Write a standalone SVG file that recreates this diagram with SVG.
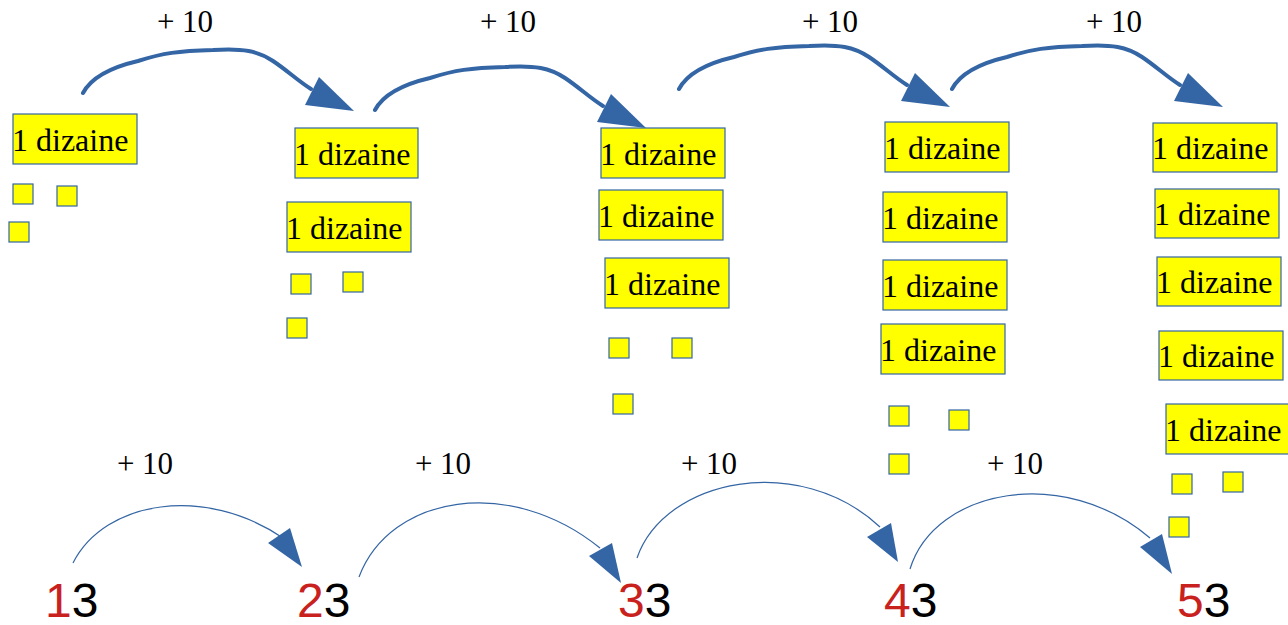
<svg xmlns="http://www.w3.org/2000/svg" width="1288" height="625" viewBox="0 0 1288 625">
<style>
.bg{fill:#ffffff}
.box rect{fill:#ffff00;stroke:#3465a4;stroke-width:1.2}
.box text{font-family:"Liberation Serif","Times New Roman",serif;font-size:32px;fill:#000}
.unit{fill:#ffff00;stroke:#3465a4;stroke-width:1.2}
.lbl{font-family:"Liberation Serif","Times New Roman",serif;font-size:31px;fill:#000;text-anchor:middle}
.num{font-family:"Liberation Sans",Arial,sans-serif;font-size:48px;fill:#000}
.red{fill:#c9211e}
.thick{fill:none;stroke:#3465a4;stroke-width:4;stroke-linecap:round}
.thin{fill:none;stroke:#3465a4;stroke-width:1.2}
.head{fill:#3465a4}
</style>
<defs>
<g id="bigArrow">
<path class="thick" d="M0,0 C8,-15 25,-25 55,-32 C80,-40 95,-42 130,-43 C160,-45 175,-42 190,-32 C205,-22 215,-12 228,-4"/>
<polygon class="head" points="222,12 236,-16 271,18"/>
</g>
</defs>
<rect class="bg" x="0" y="0" width="1288" height="625"/>

<g id="connectors">
<use href="#bigArrow" transform="translate(83,93)"/>
<use href="#bigArrow" transform="translate(375,110)"/>
<use href="#bigArrow" transform="translate(679,89)"/>
<use href="#bigArrow" transform="translate(952,89)"/>
<path class="thin" d="M73,563 C105,500 205,485 283,538"/>
<polygon class="head" points="268,543 290,528 302,567"/>
<path class="thin" d="M359,577 C390,495 510,475 600,548"/>
<polygon class="head" points="589,556 612,543 621,583"/>
<path class="thin" d="M637,558 C665,478 800,452 880,527"/>
<polygon class="head" points="867,537 891,523 898,562"/>
<path class="thin" d="M910,569 C935,488 1065,465 1150,538"/>
<polygon class="head" points="1140,547 1162,534 1172,574"/>
</g>

<g id="labels">
<text class="lbl" x="185" y="32">+ 10</text>
<text class="lbl" x="508" y="32">+ 10</text>
<text class="lbl" x="830" y="32">+ 10</text>
<text class="lbl" x="1114" y="32">+ 10</text>
<text class="lbl" x="145" y="474">+ 10</text>
<text class="lbl" x="443" y="474">+ 10</text>
<text class="lbl" x="709" y="474">+ 10</text>
<text class="lbl" x="1015" y="474">+ 10</text>
</g>

<g id="col1">
<g class="box"><rect x="13" y="114" width="124" height="50"/><text x="12" y="151">1 dizaine</text></g>
<rect class="unit" x="13" y="184" width="20" height="20"/>
<rect class="unit" x="57" y="186" width="20" height="20"/>
<rect class="unit" x="9" y="222" width="20" height="20"/>
</g>

<g id="col2">
<g class="box"><rect x="295" y="128" width="123" height="50"/><text x="294" y="165">1 dizaine</text></g>
<g class="box"><rect x="287" y="202" width="124" height="50"/><text x="286" y="239">1 dizaine</text></g>
<rect class="unit" x="291" y="274" width="20" height="20"/>
<rect class="unit" x="343" y="272" width="20" height="20"/>
<rect class="unit" x="287" y="318" width="20" height="20"/>
</g>

<g id="col3">
<g class="box"><rect x="601" y="128" width="124" height="50"/><text x="600" y="165">1 dizaine</text></g>
<g class="box"><rect x="599" y="190" width="124" height="50"/><text x="598" y="227">1 dizaine</text></g>
<g class="box"><rect x="605" y="258" width="124" height="50"/><text x="604" y="295">1 dizaine</text></g>
<rect class="unit" x="609" y="338" width="20" height="20"/>
<rect class="unit" x="672" y="338" width="20" height="20"/>
<rect class="unit" x="613" y="394" width="20" height="20"/>
</g>

<g id="col4">
<g class="box"><rect x="885" y="122" width="124" height="50"/><text x="884" y="159">1 dizaine</text></g>
<g class="box"><rect x="883" y="192" width="124" height="50"/><text x="882" y="229">1 dizaine</text></g>
<g class="box"><rect x="883" y="260" width="124" height="50"/><text x="882" y="297">1 dizaine</text></g>
<g class="box"><rect x="881" y="324" width="124" height="50"/><text x="880" y="361">1 dizaine</text></g>
<rect class="unit" x="889" y="406" width="20" height="20"/>
<rect class="unit" x="949" y="410" width="20" height="20"/>
<rect class="unit" x="889" y="454" width="20" height="20"/>
</g>

<g id="col5">
<g class="box"><rect x="1153" y="123" width="124" height="49"/><text x="1152" y="159">1 dizaine</text></g>
<g class="box"><rect x="1155" y="189" width="124" height="49"/><text x="1154" y="225">1 dizaine</text></g>
<g class="box"><rect x="1157" y="257" width="124" height="49"/><text x="1156" y="293">1 dizaine</text></g>
<g class="box"><rect x="1159" y="331" width="124" height="49"/><text x="1158" y="367">1 dizaine</text></g>
<g class="box"><rect x="1166" y="404" width="124" height="50"/><text x="1165" y="441">1 dizaine</text></g>
<rect class="unit" x="1172" y="474" width="20" height="20"/>
<rect class="unit" x="1223" y="472" width="20" height="20"/>
<rect class="unit" x="1169" y="517" width="20" height="20"/>
</g>

<g id="n13"><text class="num" x="45" y="617"><tspan class="red">1</tspan>3</text></g>
<g id="n23"><text class="num" x="297" y="617"><tspan class="red">2</tspan>3</text></g>
<g id="n33"><text class="num" x="618" y="617"><tspan class="red">3</tspan>3</text></g>
<g id="n43"><text class="num" x="884" y="617"><tspan class="red">4</tspan>3</text></g>
<g id="n53"><text class="num" x="1177" y="617"><tspan class="red">5</tspan>3</text></g>
</svg>
